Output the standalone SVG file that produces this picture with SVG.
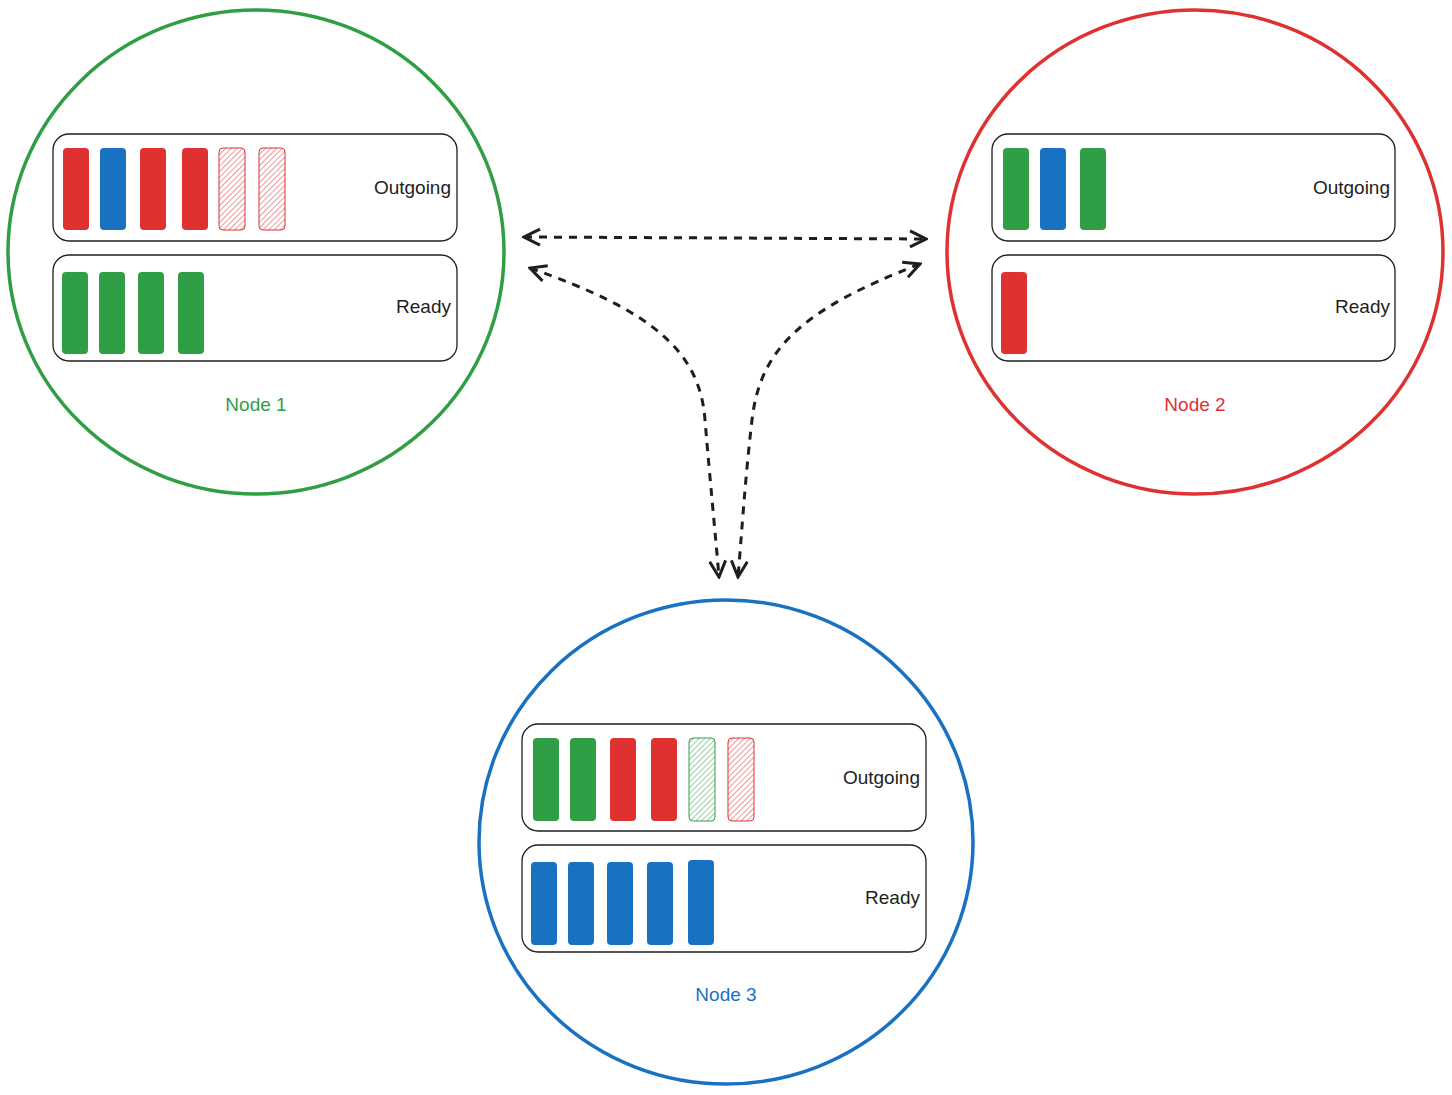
<svg xmlns="http://www.w3.org/2000/svg" width="1452" height="1095" viewBox="0 0 1452 1095">
<style>
.box{fill:none;stroke:#1e1e1e;stroke-width:1.3}
.lbl{font-family:"Liberation Sans",sans-serif;font-size:19px;fill:#1e1e1e;text-anchor:end}
.nl{font-family:"Liberation Sans",sans-serif;font-size:19px;text-anchor:middle}
.r{fill:#e03131}.b{fill:#1971c2}.g{fill:#2f9e44}
.hr{fill:url(#hr);stroke:#e03131;stroke-width:1}
.hg{fill:url(#hg);stroke:#2f9e44;stroke-width:1}
.ar{fill:none;stroke:#1e1e1e;stroke-width:3;stroke-dasharray:8 7}
</style>
<defs>
<pattern id="hr" width="4" height="4" patternUnits="userSpaceOnUse" patternTransform="rotate(45)"><line x1="0" y1="0" x2="0" y2="4" stroke="#e03131" stroke-width="1"/></pattern>
<pattern id="hg" width="4" height="4" patternUnits="userSpaceOnUse" patternTransform="rotate(45)"><line x1="0" y1="0" x2="0" y2="4" stroke="#2f9e44" stroke-width="1"/></pattern>
<marker id="m" viewBox="0 0 20 20" refX="18" refY="10" markerWidth="20" markerHeight="20" markerUnits="userSpaceOnUse" orient="auto-start-reverse"><path d="M2 2 L18 10 L2 18" fill="none" stroke="#1e1e1e" stroke-width="3"/></marker>
</defs>
<g id="node1">
<ellipse cx="256" cy="252" rx="248" ry="242" fill="none" stroke="#2f9e44" stroke-width="3.5"/>
<rect class="box" x="53" y="134" width="404" height="107" rx="16"/>
<rect class="box" x="53" y="255" width="404" height="106" rx="16"/>
<rect class="r" x="63" y="148" width="26" height="82" rx="4"/>
<rect class="b" x="100" y="148" width="26" height="82" rx="4"/>
<rect class="r" x="140" y="148" width="26" height="82" rx="4"/>
<rect class="r" x="182" y="148" width="26" height="82" rx="4"/>
<rect class="hr" x="219" y="148" width="26" height="82" rx="4"/>
<rect class="hr" x="259" y="148" width="26" height="82" rx="4"/>
<rect class="g" x="62" y="272" width="26" height="82" rx="4"/>
<rect class="g" x="99" y="272" width="26" height="82" rx="4"/>
<rect class="g" x="138" y="272" width="26" height="82" rx="4"/>
<rect class="g" x="178" y="272" width="26" height="82" rx="4"/>
<text class="lbl" x="451" y="194">Outgoing</text>
<text class="lbl" x="451" y="313">Ready</text>
<text class="nl" x="256" y="411" fill="#2f9e44">Node 1</text>
</g>
<g id="node2">
<ellipse cx="1195" cy="252" rx="248" ry="242" fill="none" stroke="#e03131" stroke-width="3.5"/>
<rect class="box" x="992" y="134" width="403" height="107" rx="16"/>
<rect class="box" x="992" y="255" width="403" height="106" rx="16"/>
<rect class="g" x="1003" y="148" width="26" height="82" rx="4"/>
<rect class="b" x="1040" y="148" width="26" height="82" rx="4"/>
<rect class="g" x="1080" y="148" width="26" height="82" rx="4"/>
<rect class="r" x="1001" y="272" width="26" height="82" rx="4"/>
<text class="lbl" x="1390" y="194">Outgoing</text>
<text class="lbl" x="1390" y="313">Ready</text>
<text class="nl" x="1195" y="411" fill="#e03131">Node 2</text>
</g>
<g id="node3">
<ellipse cx="726" cy="842" rx="247" ry="242" fill="none" stroke="#1971c2" stroke-width="3.5"/>
<rect class="box" x="522" y="724" width="404" height="107" rx="16"/>
<rect class="box" x="522" y="845" width="404" height="107" rx="16"/>
<rect class="g" x="533" y="738" width="26" height="83" rx="4"/>
<rect class="g" x="570" y="738" width="26" height="83" rx="4"/>
<rect class="r" x="610" y="738" width="26" height="83" rx="4"/>
<rect class="r" x="651" y="738" width="26" height="83" rx="4"/>
<rect class="hg" x="689" y="738" width="26" height="83" rx="4"/>
<rect class="hr" x="728" y="738" width="26" height="83" rx="4"/>
<rect class="b" x="531" y="862" width="26" height="83" rx="4"/>
<rect class="b" x="568" y="862" width="26" height="83" rx="4"/>
<rect class="b" x="607" y="862" width="26" height="83" rx="4"/>
<rect class="b" x="647" y="862" width="26" height="83" rx="4"/>
<rect class="b" x="688" y="860" width="26" height="85" rx="4"/>
<text class="lbl" x="920" y="784">Outgoing</text>
<text class="lbl" x="920" y="904">Ready</text>
<text class="nl" x="726" y="1001" fill="#1971c2">Node 3</text>
</g>
<g id="connectors">
<path class="ar" d="M524 237 L926 239" marker-start="url(#m)" marker-end="url(#m)"/>
<path class="ar" d="M530 268 C650 310 700 350 705 420 C710 480 715 530 719 577" marker-start="url(#m)" marker-end="url(#m)"/>
<path class="ar" d="M920 264 C800 310 760 350 752 420 C745 480 742 530 738 577" marker-start="url(#m)" marker-end="url(#m)"/>
</g>
</svg>
